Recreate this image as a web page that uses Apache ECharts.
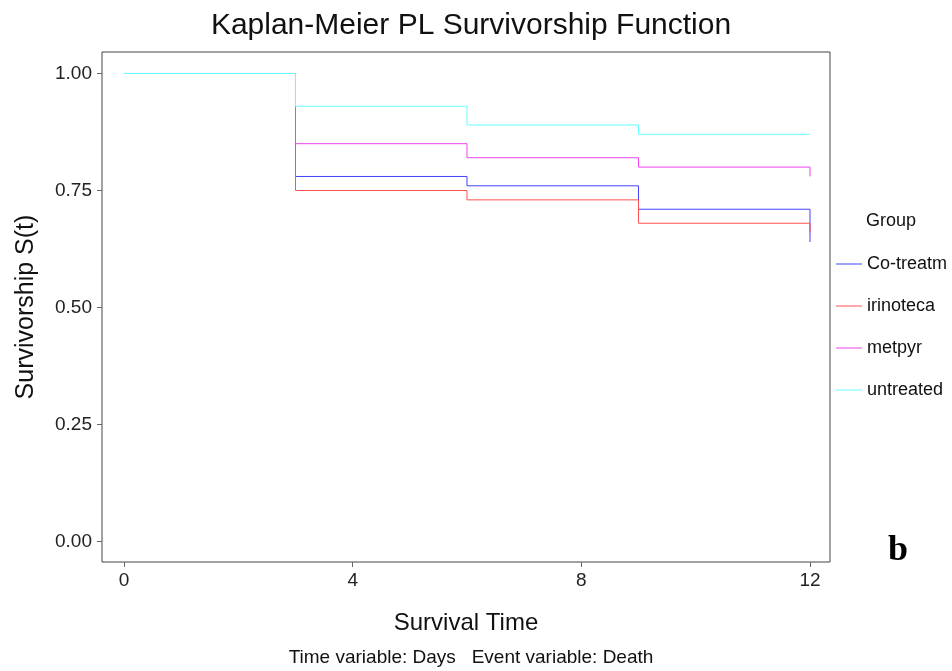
<!DOCTYPE html>
<html><head><meta charset="utf-8">
<script src="https://cdn.jsdelivr.net/npm/echarts@6/dist/echarts.min.js"></script>
<style>html,body{margin:0;padding:0;background:#fff}#c{width:952px;height:671px}</style>
</head><body><div id="c"></div>
<script>
const groups = ['Co-treatm', 'irinoteca', 'metpyr', 'untreated'];
const times = [0, 3, 6, 9, 12];
const coTreatm = [1.00, 0.78, 0.76, 0.71, 0.64];
const irinoteca = [1.00, 0.75, 0.73, 0.68, 0.66];
const metpyr = [1.00, 0.85, 0.82, 0.80, 0.78];
const untreated = [1.00, 0.93, 0.89, 0.87, 0.87];
const xTicks = [0, 4, 8, 12];
const yTicks = [0, 0.25, 0.5, 0.75, 1.0];
const colors = ['#4040ff', '#ff5050', '#ee44ee', '#66ffff'];
const values = [coTreatm, irinoteca, metpyr, untreated];

const font = 'Liberation Sans, Arial, sans-serif';
const chart = echarts.init(document.getElementById('c'));
chart.setOption({
  animation: false,
  backgroundColor: '#fff',
  title: [{
    text: 'Kaplan-Meier PL Survivorship Function',
    left: 466, top: 6, textAlign: 'center',
    textStyle: {fontFamily: font, fontSize: 30, fontWeight: 'normal', color: '#111'}
  }, {
    text: 'Time variable: Days   Event variable: Death',
    left: 466, top: 643, textAlign: 'center',
    textStyle: {fontFamily: font, fontSize: 19, fontWeight: 'normal', color: '#111'}
  }],
  grid: {left: 102, right: 122, top: 52, bottom: 109, show: true, borderColor: '#444', borderWidth: 1, containLabel: false},
  legend: {
    orient: 'vertical', left: 831, top: 250,
    data: groups,
    icon: 'rect', itemWidth: 26, itemHeight: 1, itemGap: 24,
    textStyle: {fontFamily: font, fontSize: 18, color: '#111'},
    selectedMode: false
  },
  xAxis: {
    type: 'value', min: -0.3848, max: 12.3499,
    name: 'Survival Time', nameLocation: 'middle', nameGap: 49,
    nameTextStyle: {fontFamily: font, fontSize: 24, color: '#111'},
    axisLine: {show: false, onZero: false},
    axisTick: {show: true, length: 5, customValues: xTicks, lineStyle: {color: '#666'}},
    axisLabel: {customValues: xTicks, fontFamily: font, fontSize: 19, color: '#222', margin: 9},
    splitLine: {show: false}
  },
  yAxis: {
    type: 'value', min: -0.0438, max: 1.04594,
    name: 'Survivorship S(t)', nameLocation: 'middle', nameGap: 63, nameRotate: 90,
    nameTextStyle: {fontFamily: font, fontSize: 25, color: '#111'},
    axisLine: {show: false, onZero: false},
    axisTick: {show: true, length: 5, customValues: yTicks, lineStyle: {color: '#666'}},
    axisLabel: {customValues: yTicks, formatter: v => v.toFixed(2), fontFamily: font, fontSize: 19, color: '#222', margin: 10},
    splitLine: {show: false}
  },
  series: groups.map((g, i) => ({
    name: g, type: 'line', step: 'end', showSymbol: false, symbol: 'none',
    data: times.map((t, j) => [t, values[i][j]]),
    lineStyle: {color: colors[i], width: 1},
    itemStyle: {color: colors[i]}
  })),
  graphic: [
    {type: 'text', left: 866, top: 212, style: {text: 'Group', font: '18px ' + font, fill: '#111'}},
    {type: 'text', left: 888, top: 533, style: {text: 'b', font: 'bold 36px Liberation Serif, Times New Roman, serif', fill: '#000'}}
  ]
});
</script></body></html>
